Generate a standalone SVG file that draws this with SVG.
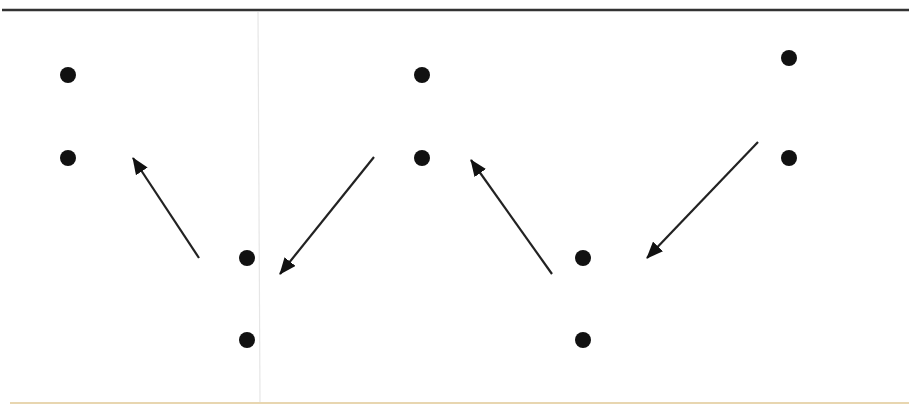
<svg xmlns="http://www.w3.org/2000/svg" width="909" height="405" viewBox="0 0 909 405">
<style>
.dot{fill:#111;}
.arr{stroke:#222;stroke-width:2.2;fill:none;marker-end:url(#ah);}
</style>
<defs>
<marker id="ah" markerUnits="userSpaceOnUse" markerWidth="18" markerHeight="14" refX="16" refY="7" orient="auto">
<path d="M0,0 L17,7 L0,14 Z" fill="#111"/>
</marker>
</defs>
<rect width="909" height="405" fill="#fff"/>
<line x1="2" y1="10" x2="909" y2="10" stroke="#333" stroke-width="2.5"/>
<line x1="258" y1="12" x2="260" y2="402" stroke="#e6e6e6" stroke-width="1.2"/>
<line x1="10" y1="403" x2="909" y2="403" stroke="#e8d6b0" stroke-width="2"/>
<g id="connectors">
<line class="arr" x1="199" y1="258" x2="133" y2="158"/>
<line class="arr" x1="374" y1="157" x2="280" y2="274"/>
<line class="arr" x1="552" y1="274" x2="471" y2="160"/>
<line class="arr" x1="758" y1="142" x2="647" y2="258"/>
</g>
<g id="n1"><circle class="dot" cx="68" cy="75" r="8"/></g>
<g id="n2"><circle class="dot" cx="68" cy="158" r="8"/></g>
<g id="n3"><circle class="dot" cx="247" cy="258" r="8"/></g>
<g id="n4"><circle class="dot" cx="247" cy="340" r="8"/></g>
<g id="n5"><circle class="dot" cx="422" cy="75" r="8"/></g>
<g id="n6"><circle class="dot" cx="422" cy="158" r="8"/></g>
<g id="n7"><circle class="dot" cx="583" cy="258" r="8"/></g>
<g id="n8"><circle class="dot" cx="583" cy="340" r="8"/></g>
<g id="n9"><circle class="dot" cx="789" cy="58" r="8"/></g>
<g id="n10"><circle class="dot" cx="789" cy="158" r="8"/></g>
</svg>
